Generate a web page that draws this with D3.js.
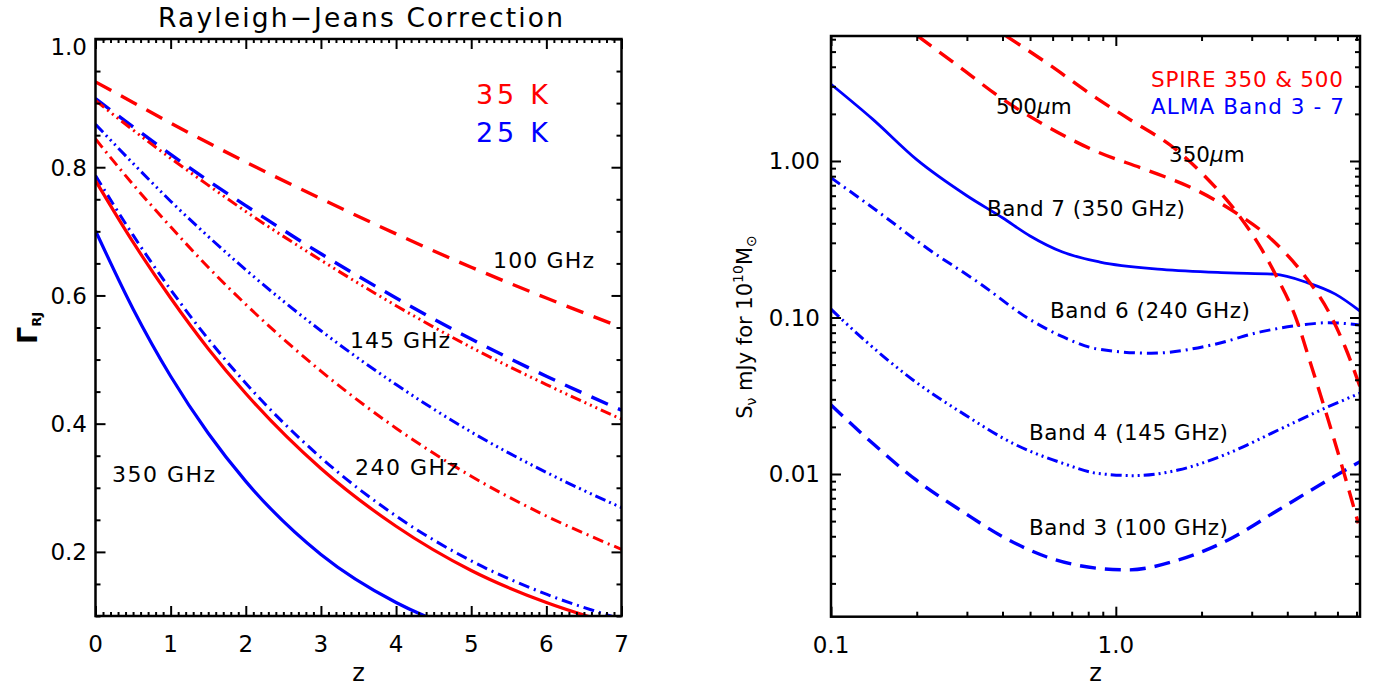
<!DOCTYPE html>
<html><head><meta charset="utf-8">
<script src="https://cdn.jsdelivr.net/npm/d3@7"></script>
<style>
body{margin:0;background:#fff;}
text{font-family:"DejaVu Sans",sans-serif;fill:#000;}
</style></head>
<body><svg id="c" width="1385" height="690"></svg>
<script>
// ---------------- DATA: left panel (Rayleigh-Jeans correction) ----------------
const zRJ      = [0, 0.5, 1, 1.5, 2, 3, 4, 5, 6, 7];
const rj100K35 = [0.933, 0.901, 0.869, 0.838, 0.808, 0.751, 0.696, 0.644, 0.596, 0.550];
const rj100K25 = [0.907, 0.863, 0.820, 0.779, 0.740, 0.665, 0.596, 0.532, 0.474, 0.421];
const rj145K35 = [0.904, 0.858, 0.814, 0.772, 0.731, 0.655, 0.584, 0.519, 0.461, 0.407];
const rj145K25 = [0.867, 0.806, 0.747, 0.692, 0.640, 0.545, 0.461, 0.387, 0.324, 0.269];
const rj240K35 = [0.844, 0.773, 0.707, 0.644, 0.586, 0.482, 0.393, 0.318, 0.256, 0.204];
const rj240K25 = [0.787, 0.694, 0.609, 0.532, 0.463, 0.347, 0.256, 0.186, 0.134, 0.095];
const rj350K35 = [0.779, 0.683, 0.596, 0.517, 0.447, 0.330, 0.240, 0.171, 0.121, 0.084];
const rj350K25 = [0.701, 0.579, 0.474, 0.385, 0.310, 0.196, 0.121, 0.073, 0.043, 0.025];

const leftXTicks  = [0, 1, 2, 3, 4, 5, 6, 7];
const leftXLabels = ["0", "1", "2", "3", "4", "5", "6", "7"];
const leftYTicks  = [0.2, 0.4, 0.6, 0.8, 1.0];
const leftYLabels = ["0.2", "0.4", "0.6", "0.8", "1.0"];

// ---------------- DATA: right panel (flux for 1e10 Msun) ----------------
const band7Z = [0.1, 0.14, 0.2, 0.3, 0.4, 0.5, 0.65, 0.88, 1.45, 2.5, 3.6, 4.7, 5.9, 7.2];
const band7S = [3.09, 1.85, 1.02, 0.60, 0.434, 0.332, 0.262, 0.226, 0.203, 0.193, 0.189, 0.167, 0.141, 0.110];
const band6Z = [0.1, 0.148, 0.22, 0.33, 0.5, 0.65, 0.86, 1.33, 2.17, 3.25, 4.5, 5.57, 7.2];
const band6S = [0.782, 0.467, 0.273, 0.167, 0.097, 0.0754, 0.063, 0.0591, 0.0667, 0.0812, 0.0896, 0.0926, 0.0896];
const band4Z = [0.1, 0.129, 0.194, 0.29, 0.435, 0.652, 0.86, 1.165, 1.655, 2.48, 3.72, 5.57, 7.2];
const band4S = [0.113, 0.0736, 0.0399, 0.0244, 0.0157, 0.0117, 0.0101, 0.00976, 0.0106, 0.01355, 0.0191, 0.0269, 0.0328];
const band3Z = [0.1, 0.14, 0.199, 0.29, 0.401, 0.57, 0.86, 1.104, 1.655, 2.48, 3.72, 5.57, 7.2];
const band3S = [0.0276, 0.0157, 0.00916, 0.00574, 0.00397, 0.00296, 0.00250, 0.00244, 0.00282, 0.00379, 0.00589, 0.00916, 0.0120];
const spire500Z = [0.2016, 0.29, 0.401, 0.555, 0.86, 1.264, 1.894, 2.69, 3.52, 4.61, 5.57, 6.38, 7.2];
const spire500S = [6.29, 3.85, 2.48, 1.72, 1.145, 0.885, 0.659, 0.456, 0.316, 0.184, 0.110, 0.065, 0.0361];
const spire350Z = [0.412, 0.57, 0.85, 1.165, 1.568, 2.05, 2.69, 3.25, 3.66, 4.26, 4.87, 5.57, 6.38, 7.1];
const spire350S = [6.29, 4.25, 2.54, 1.76, 1.247, 0.802, 0.456, 0.273, 0.184, 0.1025, 0.0485, 0.0221, 0.00961, 0.00484];

const rightXTicks  = [0.1, 1.0];
const rightXLabels = ["0.1", "1.0"];
const rightYTicks  = [0.01, 0.1, 1];
const rightYLabels = ["0.01", "0.10", "1.00"];

// ---------------- drawing ----------------
const svg = d3.select("#c");
const RED = "#ff0000", BLUE = "#0000ff";
const DASH = {solid: null, dash: "18,11", dashR: "17,10", dashB: "16,9",
              dashdot: "11,5,2,5", dash3dot: "11,4,2,4,2,4,2,4"};

// Left panel geometry
const L = {x0: 95.5, x1: 621.5, y0: 39, y1: 616};
const lx = d3.scaleLinear().domain([0, 7]).range([L.x0, L.x1]);
const ly = d3.scaleLinear().domain([0.1, 1.0]).range([L.y1, L.y0]);

// Right panel geometry
const R = {x0: 831, x1: 1360, y0: 36, y1: 616.7};
const rx = d3.scaleLog().domain([0.1, 7.2]).range([R.x0, R.x1]);
const ry = d3.scaleLog().domain([0.001225, 6.29]).range([R.y1, R.y0]);

const defs = svg.append("defs");
defs.append("clipPath").attr("id", "clipL").append("rect")
  .attr("x", L.x0).attr("y", L.y0).attr("width", L.x1 - L.x0).attr("height", L.y1 - L.y0);
defs.append("clipPath").attr("id", "clipR").append("rect")
  .attr("x", R.x0).attr("y", R.y0).attr("width", R.x1 - R.x0).attr("height", R.y1 - R.y0);

function ticks(g, axisFn, scale, values, size, tx, ty) {
  const a = axisFn(scale).tickValues(values).tickSize(-size).tickFormat("");
  const gg = g.append("g").attr("transform", `translate(${tx},${ty})`).call(a);
  gg.select(".domain").remove();
  gg.selectAll(".tick line").attr("stroke", "#000").attr("stroke-width", 2);
}

// ----- Left panel -----
const gl = svg.append("g");
const leftSeries = [
  {v: rj100K35, c: RED,  d: DASH.dash,     w: 3.4},
  {v: rj100K25, c: BLUE, d: DASH.dash,     w: 3.4},
  {v: rj145K35, c: RED,  d: DASH.dash3dot, w: 3},
  {v: rj145K25, c: BLUE, d: DASH.dash3dot, w: 3},
  {v: rj240K35, c: RED,  d: DASH.dashdot,  w: 3},
  {v: rj240K25, c: BLUE, d: DASH.dashdot,  w: 3},
  {v: rj350K35, c: RED,  d: DASH.solid,    w: 3.2},
  {v: rj350K25, c: BLUE, d: DASH.solid,    w: 3.2}
];
const lline = d3.line().x(d => lx(d[0])).y(d => ly(d[1])).curve(d3.curveMonotoneX);
const glc = gl.append("g").attr("clip-path", "url(#clipL)");
leftSeries.forEach(s => {
  glc.append("path").datum(zRJ.map((z, i) => [z, s.v[i]]))
    .attr("d", lline).attr("fill", "none").attr("stroke", s.c)
    .attr("stroke-width", s.w).attr("stroke-dasharray", s.d);
});

const lxMinor = d3.range(0, 7.0001, 0.1).filter(v => Math.abs(v - Math.round(v)) > 1e-6);
const lyMinor = d3.range(0.1, 1.0001, 0.05).filter(v => Math.abs(v * 5 - Math.round(v * 5)) > 1e-6);
ticks(gl, d3.axisBottom, lx, leftXTicks, 10, 0, L.y1);
ticks(gl, d3.axisBottom, lx, lxMinor, 4, 0, L.y1);
ticks(gl, d3.axisTop, lx, leftXTicks, 10, 0, L.y0);
ticks(gl, d3.axisTop, lx, lxMinor, 4, 0, L.y0);
ticks(gl, d3.axisLeft, ly, leftYTicks, 10, L.x0, 0);
ticks(gl, d3.axisLeft, ly, lyMinor, 5, L.x0, 0);
ticks(gl, d3.axisRight, ly, leftYTicks, 10, L.x1, 0);
ticks(gl, d3.axisRight, ly, lyMinor, 5, L.x1, 0);
gl.append("rect").attr("x", L.x0).attr("y", L.y0).attr("width", L.x1 - L.x0).attr("height", L.y1 - L.y0)
  .attr("fill", "none").attr("stroke", "#000").attr("stroke-width", 2.5);

gl.selectAll("text.lxl").data(leftXTicks).join("text").attr("class", "lxl")
  .attr("x", d => lx(d)).attr("y", 652).attr("text-anchor", "middle")
  .attr("font-size", 23).text((d, i) => leftXLabels[i]);
gl.selectAll("text.lyl").data(leftYTicks).join("text").attr("class", "lyl")
  .attr("x", 87).attr("y", d => Math.max(ly(d), 47)).attr("dy", "0.36em")
  .attr("text-anchor", "end").attr("font-size", 23).text((d, i) => leftYLabels[i]);

gl.append("text").attr("x", 360.5).attr("y", 27).attr("text-anchor", "middle")
  .attr("font-size", 26.5).attr("textLength", 405).attr("lengthAdjust", "spacing")
  .text("Rayleigh\u2212Jeans Correction");
gl.append("text").attr("x", 476).attr("y", 104).attr("font-size", 27)
  .style("fill", RED).attr("textLength", 72).attr("lengthAdjust", "spacing").text("35 K");
gl.append("text").attr("x", 476).attr("y", 142).attr("font-size", 27)
  .style("fill", BLUE).attr("textLength", 72).attr("lengthAdjust", "spacing").text("25 K");
const lLabels = [
  {t: "100 GHz", x: 493, y: 268, w: 101},
  {t: "145 GHz", x: 350, y: 348, w: 100},
  {t: "240 GHz", x: 355, y: 475, w: 103},
  {t: "350 GHz", x: 112, y: 482, w: 103}
];
lLabels.forEach(o => gl.append("text").attr("x", o.x).attr("y", o.y).attr("font-size", 22)
  .attr("textLength", o.w).attr("lengthAdjust", "spacing").text(o.t));
gl.append("text").attr("x", (L.x0 + L.x1) / 2).attr("y", 681).attr("text-anchor", "middle")
  .attr("font-size", 24).text("z");
const gam = gl.append("text").attr("transform", "translate(37,328) rotate(-90)")
  .attr("text-anchor", "middle");
gam.append("tspan").attr("font-size", 27).attr("font-weight", "bold").text("\u0393");
gam.append("tspan").attr("font-size", 13).attr("font-weight", "bold").attr("dy", 4).text("RJ");

// ----- Right panel -----
const gr = svg.append("g");
const rightSeries = [
  {z: band7Z, v: band7S, c: BLUE, d: DASH.solid, w: 2.8},
  {z: band6Z, v: band6S, c: BLUE, d: DASH.dashdot, w: 3},
  {z: band4Z, v: band4S, c: BLUE, d: DASH.dash3dot, w: 3},
  {z: band3Z, v: band3S, c: BLUE, d: DASH.dashB, w: 3.4},
  {z: spire500Z, v: spire500S, c: RED, d: DASH.dashR, w: 3.4},
  {z: spire350Z, v: spire350S, c: RED, d: DASH.dashR, w: 3.4}
];
const rline = d3.line().x(d => rx(d[0])).y(d => ry(d[1])).curve(d3.curveMonotoneX);
const grc = gr.append("g").attr("clip-path", "url(#clipR)");
rightSeries.forEach(s => {
  grc.append("path").datum(s.z.map((z, i) => [z, s.v[i]]))
    .attr("d", rline).attr("fill", "none").attr("stroke", s.c)
    .attr("stroke-width", s.w).attr("stroke-dasharray", s.d);
});

const rxMinor = [0.2,0.3,0.4,0.5,0.6,0.7,0.8,0.9,2,3,4,5,6,7];
const ryMinor = [];
[0.001, 0.01, 0.1, 1].forEach(dec => d3.range(2, 10).forEach(k => {
  const v = dec * k; if (v > 0.001225 && v < 6.29) ryMinor.push(v);
}));
ticks(gr, d3.axisBottom, rx, rightXTicks, 10, 0, R.y1);
ticks(gr, d3.axisBottom, rx, rxMinor, 5, 0, R.y1);
ticks(gr, d3.axisTop, rx, rightXTicks, 10, 0, R.y0);
ticks(gr, d3.axisTop, rx, rxMinor, 5, 0, R.y0);
ticks(gr, d3.axisLeft, ry, rightYTicks, 10, R.x0, 0);
ticks(gr, d3.axisLeft, ry, ryMinor, 5, R.x0, 0);
ticks(gr, d3.axisRight, ry, rightYTicks, 10, R.x1, 0);
ticks(gr, d3.axisRight, ry, ryMinor, 5, R.x1, 0);
gr.append("rect").attr("x", R.x0).attr("y", R.y0).attr("width", R.x1 - R.x0).attr("height", R.y1 - R.y0)
  .attr("fill", "none").attr("stroke", "#000").attr("stroke-width", 2.5);

gr.selectAll("text.rxl").data(rightXTicks).join("text").attr("class", "rxl")
  .attr("x", d => rx(d)).attr("y", 653).attr("text-anchor", "middle")
  .attr("font-size", 23).text((d, i) => rightXLabels[i]);
gr.selectAll("text.ryl").data(rightYTicks).join("text").attr("class", "ryl")
  .attr("x", 820).attr("y", d => ry(d)).attr("dy", "0.36em")
  .attr("text-anchor", "end").attr("font-size", 23).text((d, i) => rightYLabels[i]);

gr.append("text").attr("x", 1151).attr("y", 87).attr("font-size", 21.5).style("fill", RED)
  .attr("textLength", 192).attr("lengthAdjust", "spacing").text("SPIRE 350 & 500");
gr.append("text").attr("x", 1151).attr("y", 114.3).attr("font-size", 21.5).style("fill", BLUE)
  .attr("textLength", 193).attr("lengthAdjust", "spacing").text("ALMA Band 3 - 7");
const rLabels = [
  {t: "Band 7 (350 GHz)", x: 987, y: 216, w: 198},
  {t: "Band 6 (240 GHz)", x: 1050, y: 318, w: 200},
  {t: "Band 4 (145 GHz)", x: 1029, y: 440, w: 199},
  {t: "Band 3 (100 GHz)", x: 1029, y: 535, w: 199}
];
rLabels.forEach(o => gr.append("text").attr("x", o.x).attr("y", o.y).attr("font-size", 21.5)
  .attr("textLength", o.w).attr("lengthAdjust", "spacing").text(o.t));
[{t: "500", x: 996, y: 114}, {t: "350", x: 1169, y: 162}].forEach(o => {
  const t = gr.append("text").attr("x", o.x).attr("y", o.y).attr("font-size", 21.5);
  t.append("tspan").text(o.t);
  t.append("tspan").attr("font-style", "italic").text("\u03bc");
  t.append("tspan").text("m");
});
gr.append("text").attr("x", (R.x0 + R.x1) / 2).attr("y", 681).attr("text-anchor", "middle")
  .attr("font-size", 24).text("z");
const yl = gr.append("text").attr("transform", "translate(752,327) rotate(-90)")
  .attr("text-anchor", "middle").attr("font-size", 21);
yl.append("tspan").text("S");
yl.append("tspan").attr("font-size", 14).attr("dy", 4).text("\u03bd");
yl.append("tspan").attr("dy", -4).text(" mJy for 10");
yl.append("tspan").attr("font-size", 14).attr("dy", -9).text("10");
yl.append("tspan").attr("dy", 9).text("M");
yl.append("tspan").attr("font-size", 14).attr("dy", 4).text("\u2299");
</script>
</body></html>
